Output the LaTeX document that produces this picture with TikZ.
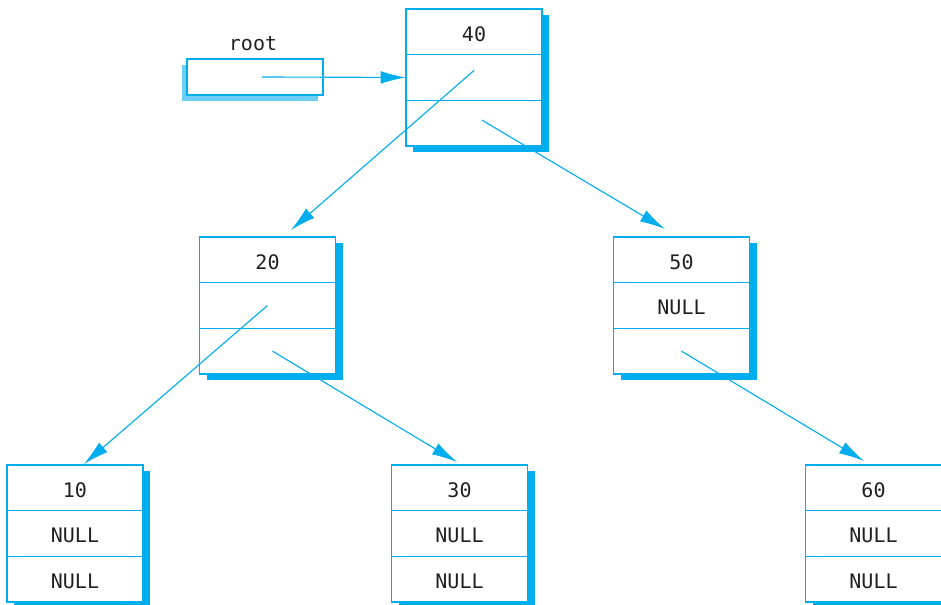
\documentclass[tikz,border=0pt]{standalone}
\usepackage{fontspec}
\setmonofont{DejaVu Sans Mono}
\usetikzlibrary{positioning}
\usetikzlibrary{arrows.meta}
\usetikzlibrary{shadows}
\definecolor{ptrblue}{HTML}{00AEEF}
\definecolor{rootshade}{HTML}{6DCFF6}
\definecolor{keytext}{HTML}{231F20}

\begin{document}
\begin{tikzpicture}[x = 0.75pt, y = -0.75pt,
        font = \ttfamily\fontsize{15}{18}\selectfont,
        cell/.style = {draw = ptrblue, fill = white, line width = 0.85pt, text = keytext,
            minimum width = 102pt, minimum height = 34.25pt, inner sep = 0pt, outer sep = 0pt,
            text height = 13.9pt, text depth = 0pt,
            drop shadow = {shadow xshift = 5.25pt, shadow yshift = -4.5pt, fill = ptrblue, opacity = 1}},
        rootbox/.style = {draw = ptrblue, fill = white, line width = 0.85pt,
            minimum width = 102pt, minimum height = 27pt, inner sep = 0pt, outer sep = 0pt,
            drop shadow = {shadow xshift = -3.75pt, shadow yshift = -4.5pt, fill = rootshade, opacity = 1}},
        ptr/.style = {draw = ptrblue, line width = 0.85pt, -{Latex[length = 19pt, width = 9.5pt]}}]

        \useasboundingbox (0,0) rectangle (941,605);

        \node[rootbox] (root) at (255,77) {};
        \node[text = keytext] (rootname) at (253,44) {root};

        \node[cell] (n40) at (474,31.8) {40};
        \node[cell, below = 0pt of n40] (n40l) {};
        \node[cell, below = 0pt of n40l] (n40r) {};

        \node[cell] (n20) at (267.5,259.8) {20};
        \node[cell, below = 0pt of n20] (n20l) {};
        \node[cell, below = 0pt of n20l] (n20r) {};

        \node[cell] (n50) at (681.5,259.8) {50};
        \node[cell, below = 0pt of n50] (n50l) {NULL};
        \node[cell, below = 0pt of n50l] (n50r) {};

        \node[cell] (n10) at (75,487.8) {10};
        \node[cell, below = 0pt of n10] (n10l) {NULL};
        \node[cell, below = 0pt of n10l] (n10r) {NULL};

        \node[cell] (n30) at (459.5,487.8) {30};
        \node[cell, below = 0pt of n30] (n30l) {NULL};
        \node[cell, below = 0pt of n30l] (n30r) {NULL};

        \node[cell] (n60) at (873.5,487.8) {60};
        \node[cell, below = 0pt of n60] (n60l) {NULL};
        \node[cell, below = 0pt of n60l] (n60r) {NULL};

        \draw[ptr] ([shift = {(7,0)}]root.center) -- (n40l.west);
        \draw[ptr] ([shift = {(0,-7)}]n40l.center) -- ([shift = {(23.5,-7)}]n20.north);
        \draw[ptr] ([shift = {(8,-3)}]n40r.center) -- ([shift = {(-16.5,-8)}]n50.north);
        \draw[ptr] (n20l.center) -- ([shift = {(9,-1)}]n10.north);
        \draw[ptr] ([shift = {(5,0)}]n20r.center) -- ([shift = {(-2.5,-3)}]n30.north);
        \draw[ptr] (n50r.center) -- ([shift = {(-9.5,-4)}]n60.north);
    \end{tikzpicture}
\end{document}
